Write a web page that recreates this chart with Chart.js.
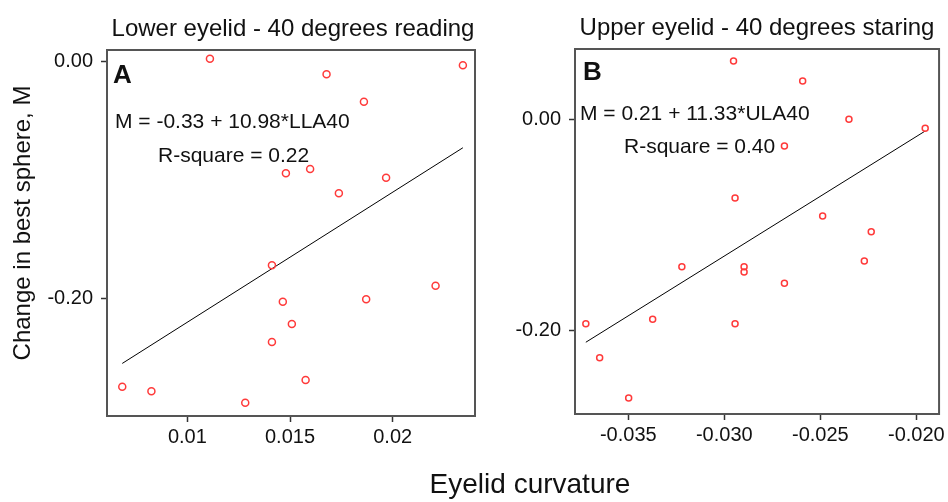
<!DOCTYPE html>
<html>
<head>
<meta charset="utf-8">
<script src="https://cdn.jsdelivr.net/npm/chart.js@4"></script>
<style>
  html, body { margin: 0; padding: 0; background: #fff; }
  #page { position: relative; width: 948px; height: 502px; overflow: hidden;
          font-family: "Liberation Sans", Arial, sans-serif; color: #111; }
  canvas { position: absolute; top: 0; }
  #cA { left: 0; }
  #cB { left: 480px; }
  .axt { position: absolute; white-space: nowrap; text-align: center; width: 400px; }
  #xt { left: 330px; top: 470px; font-size: 28px; line-height: 28px; }
  #yt { left: -178px; top: 211px; font-size: 24px; line-height: 24px; transform: rotate(-90deg); }
</style>
</head>
<body>
<div id="page">
  <canvas id="cA" width="480" height="502"></canvas>
  <canvas id="cB" width="468" height="502"></canvas>
  <div class="axt" id="yt">Change in best sphere, M</div>
  <div class="axt" id="xt">Eyelid curvature</div>
</div>
<script>
// Lower eyelid, 40 degrees reading: curvature vs change in best sphere (M)
const lowerCurv = [0.01110, 0.01678, 0.02342, 0.01860, 0.01480, 0.01598, 0.01968, 0.01738, 0.01412,
                   0.02209, 0.01871, 0.01465, 0.01509, 0.01412, 0.01576, 0.00683, 0.00825, 0.01282];
const lowerChange = [0.0024, -0.0108, -0.0032, -0.0340, -0.0944, -0.0908, -0.0981, -0.1113, -0.1721,
                     -0.1894, -0.2008, -0.2029, -0.2217, -0.2369, -0.2690, -0.2747, -0.2785, -0.2882];
// Upper eyelid, 40 degrees staring
const upperCurv = [-0.02952, -0.02592, -0.02351, -0.01954, -0.02687, -0.02944, -0.02488, -0.02235, -0.02271,
                   -0.03221, -0.02897, -0.02897, -0.02687, -0.03373, -0.03721, -0.02944, -0.03649, -0.03498];
const upperChange = [0.0550, 0.0360, -0.0003, -0.0088, -0.0256, -0.0749, -0.0919, -0.1069, -0.1346,
                     -0.1401, -0.1400, -0.1450, -0.1557, -0.1899, -0.1940, -0.1940, -0.2263, -0.2645];

// Fitted lines: [intercept, slope]
const lowerFit = [-0.33, 10.98];
const upperFit = [0.21, 11.33];

// Tick values and labels
const changeTicks = [0, -0.20];
const changeTickLabels = ['0.00', '-0.20'];
const lowerCurvTicks = [0.01, 0.015, 0.02];
const lowerCurvTickLabels = ['0.01', '0.015', '0.02'];
const upperCurvTicks = [-0.035, -0.030, -0.025, -0.020];
const upperCurvTickLabels = ['-0.035', '-0.030', '-0.025', '-0.020'];

const FONT = '"Liberation Sans", Arial, sans-serif';
const INK = '#111';

// Frame around the plotting area plus free text (panel title, letter, fit equation)
const panelDecor = {
  id: 'panelDecor',
  beforeDatasetsDraw(chart, args, opts) {
    const a = chart.chartArea, ctx = chart.ctx;
    ctx.save();
    ctx.strokeStyle = '#555';
    ctx.lineWidth = 2;
    ctx.strokeRect(a.left, a.top, a.right - a.left, a.bottom - a.top);
    ctx.restore();
  },
  afterDraw(chart, args, opts) {
    const ctx = chart.ctx;
    ctx.save();
    ctx.fillStyle = INK;
    ctx.textBaseline = 'alphabetic';
    (opts.texts || []).forEach(t => {
      ctx.font = t.font;
      ctx.textAlign = t.align || 'left';
      ctx.fillText(t.text, t.x, t.y);
    });
    ctx.restore();
  }
};

function makePanel(id, xs, ys, fit, xTicks, xLabels, cfg) {
  const x0 = Math.min(...xs), x1 = Math.max(...xs);
  const points = xs.map((x, i) => ({ x, y: ys[i] }));
  const fitLine = [{ x: x0, y: fit[0] + fit[1] * x0 }, { x: x1, y: fit[0] + fit[1] * x1 }];
  const tickFont = { family: FONT, size: 20 };
  return new Chart(document.getElementById(id), {
    type: 'scatter',
    data: {
      datasets: [
        { type: 'scatter', data: points, order: 1,
          pointStyle: 'circle', pointRadius: cfg.r, pointHoverRadius: cfg.r,
          borderColor: '#ff3a3a', backgroundColor: 'rgba(0,0,0,0)', borderWidth: 1.5 },
        { type: 'line', data: fitLine, order: 2, showLine: true,
          borderColor: '#000', borderWidth: 1, pointRadius: 0, fill: false }
      ]
    },
    options: {
      responsive: false, animation: false, devicePixelRatio: 1,
      layout: { padding: { top: cfg.padTop, right: cfg.padRight, left: 0, bottom: 0 } },
      plugins: { legend: { display: false }, tooltip: { enabled: false }, title: { display: false },
                 panelDecor: { texts: cfg.texts } },
      scales: {
        x: {
          type: 'linear', min: cfg.xMin, max: cfg.xMax,
          afterBuildTicks: s => { s.ticks = xTicks.map(v => ({ value: v })); },
          afterFit: s => { s.height = cfg.xAxisH; },
          ticks: { autoSkip: false, maxRotation: 0, font: tickFont, color: INK, padding: 3,
                   callback: (v, i) => xLabels[i] },
          grid: { drawOnChartArea: false, drawTicks: true, tickLength: 6, tickColor: '#333', tickWidth: 1.5 },
          border: { display: false }
        },
        y: {
          type: 'linear', min: cfg.yMin, max: cfg.yMax,
          afterBuildTicks: s => { s.ticks = changeTicks.map(v => ({ value: v })); },
          afterFit: s => { s.width = cfg.yAxisW; },
          ticks: { autoSkip: false, font: tickFont, color: INK, padding: 8,
                   callback: (v, i) => changeTickLabels[i] },
          grid: { drawOnChartArea: false, drawTicks: true, tickLength: 6, tickColor: '#333', tickWidth: 1.5 },
          border: { display: false }
        }
      }
    },
    plugins: [panelDecor]
  });
}

makePanel('cA', lowerCurv, lowerChange, lowerFit, lowerCurvTicks, lowerCurvTickLabels, {
  xMin: 0.006087, xMax: 0.02401, yMin: -0.2994, yMax: 0.00971,
  yAxisW: 107, xAxisH: 86, padTop: 50, padRight: 2, r: 3.5,
  texts: [
    { text: 'Lower eyelid - 40 degrees reading', x: 293, y: 36, font: '24px ' + FONT, align: 'center' },
    { text: 'A', x: 113, y: 83, font: 'bold 26px ' + FONT },
    { text: 'M = -0.33 + 10.98*LLA40', x: 115, y: 128, font: '21px ' + FONT },
    { text: 'R-square = 0.22', x: 158, y: 162, font: '21px ' + FONT }
  ]
});

makePanel('cB', upperCurv, upperChange, upperFit, upperCurvTicks, upperCurvTickLabels, {
  xMin: -0.037774, xMax: -0.018818, yMin: -0.2796, yMax: 0.06635,
  yAxisW: 95, xAxisH: 88, padTop: 49, padRight: 4, r: 3,
  texts: [
    { text: 'Upper eyelid - 40 degrees staring', x: 277, y: 35, font: '24px ' + FONT, align: 'center' },
    { text: 'B', x: 103, y: 80, font: 'bold 26px ' + FONT },
    { text: 'M = 0.21 + 11.33*ULA40', x: 100, y: 120, font: '21px ' + FONT },
    { text: 'R-square = 0.40', x: 144, y: 153, font: '21px ' + FONT }
  ]
});
</script>
</body>
</html>
